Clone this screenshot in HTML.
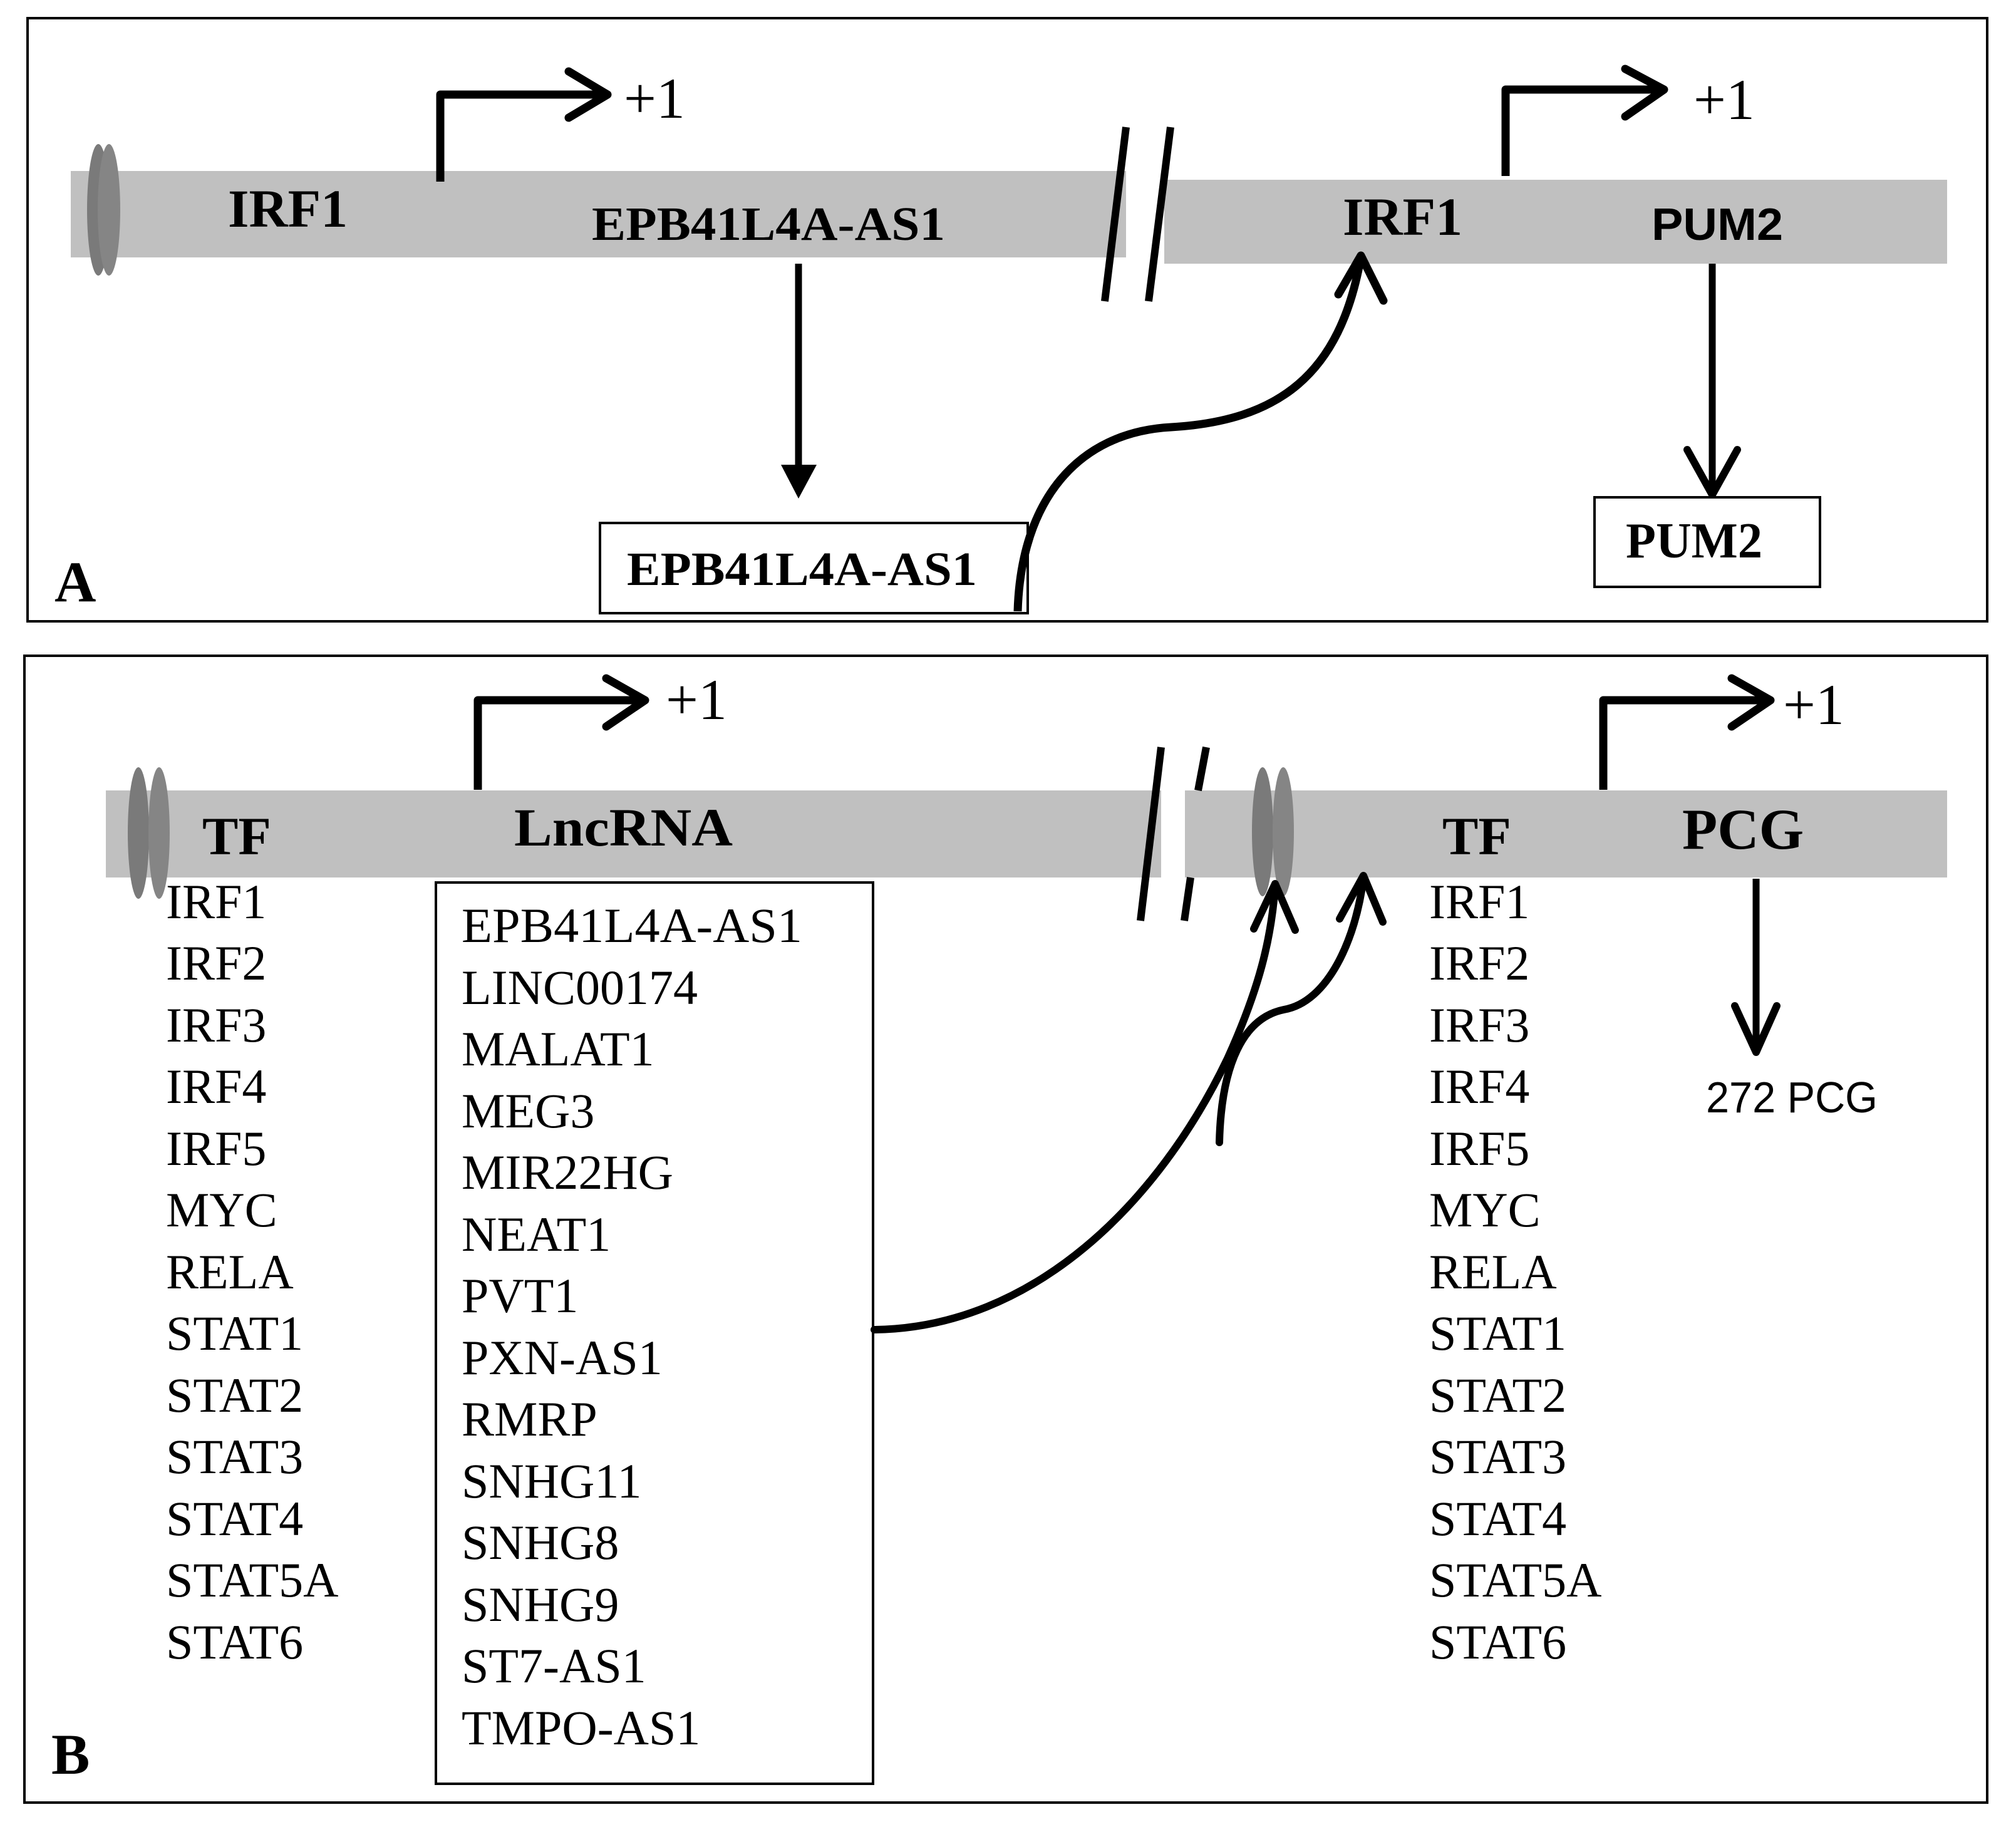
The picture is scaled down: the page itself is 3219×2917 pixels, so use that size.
<!DOCTYPE html>
<html><head><meta charset="utf-8"><style>
html,body{margin:0;padding:0;background:#fff}
svg{display:block}
text{font-family:"Liberation Serif",serif;fill:#000}
.b{font-weight:bold}
.s{font-family:"Liberation Sans",sans-serif}
</style></head><body>
<svg width="3219" height="2917" viewBox="0 0 3219 2917" xmlns="http://www.w3.org/2000/svg">
<rect width="3219" height="2917" fill="#fff"/>
<!-- Panel A -->
<rect x="44" y="29" width="3129" height="963" fill="none" stroke="#000" stroke-width="4"/>
<rect x="113" y="273" width="1685" height="138" fill="#c0c0c0"/>
<rect x="1859" y="287" width="1250" height="134" fill="#c0c0c0"/>
<ellipse cx="157" cy="335" rx="18" ry="105" fill="#7a7a7a"/>
<ellipse cx="174" cy="335" rx="18" ry="105" fill="#858585"/>
<text x="364" y="362" font-size="86" class="b">IRF1</text>
<text x="945" y="383" font-size="76" class="b" textLength="564" lengthAdjust="spacingAndGlyphs">EPB41L4A-AS1</text>
<g fill="none" stroke="#000" stroke-width="13" stroke-linecap="round" stroke-linejoin="round">
<path d="M703 290 V151 H970" stroke-linecap="butt"/>
<path d="M908 114 L970 151 L908 188"/>
<path d="M2404 281 V143 H2655" stroke-linecap="butt"/>
<path d="M2595 110 L2657 143 L2595 186"/>
</g>
<text x="996" y="188" font-size="92">+1</text>
<text x="2704" y="190" font-size="92">+1</text>
<line x1="1275" y1="421" x2="1275" y2="750" stroke="#000" stroke-width="11"/>
<polygon points="1247,742 1304,742 1275,796" fill="#000"/>
<rect x="958" y="835" width="683" height="144" fill="#fff" stroke="#000" stroke-width="4"/>
<text x="1001" y="934" font-size="76" class="b" textLength="559" lengthAdjust="spacingAndGlyphs">EPB41L4A-AS1</text>
<text x="87" y="960" font-size="92" class="b">A</text>
<g stroke="#000" stroke-width="12">
<line x1="1798" y1="203" x2="1764" y2="481"/>
<line x1="1869" y1="203" x2="1834" y2="481"/>
</g>
<path d="M1625 976 C1630 800 1720 690 1870 682 C2040 672 2140 600 2173 410" fill="none" stroke="#000" stroke-width="13"/>
<path d="M2137 470 L2173 408 L2209 480" fill="none" stroke="#000" stroke-width="13" stroke-linecap="round" stroke-linejoin="round"/>
<text x="2144" y="375" font-size="86" class="b">IRF1</text>
<text x="2637" y="383" font-size="72" class="s b" textLength="210" lengthAdjust="spacingAndGlyphs">PUM2</text>
<line x1="2734" y1="421" x2="2734" y2="785" stroke="#000" stroke-width="11"/>
<path d="M2694 718 L2734 790 L2774 718" fill="none" stroke="#000" stroke-width="12" stroke-linecap="round" stroke-linejoin="round"/>
<rect x="2546" y="794" width="360" height="143" fill="#fff" stroke="#000" stroke-width="4"/>
<text x="2596" y="890" font-size="80" class="b" textLength="218" lengthAdjust="spacingAndGlyphs">PUM2</text>

<!-- Panel B -->
<rect x="39" y="1047" width="3134" height="1831" fill="none" stroke="#000" stroke-width="4"/>
<rect x="169" y="1262" width="1685" height="139" fill="#c0c0c0"/>
<rect x="1892" y="1262" width="1217" height="139" fill="#c0c0c0"/>
<ellipse cx="221" cy="1330" rx="17" ry="105" fill="#7a7a7a"/>
<ellipse cx="254" cy="1330" rx="17" ry="105" fill="#858585"/>
<ellipse cx="2016" cy="1328" rx="17" ry="103" fill="#7a7a7a"/>
<ellipse cx="2049" cy="1328" rx="17" ry="103" fill="#858585"/>
<text x="323" y="1364" font-size="86" class="b">TF</text>
<text x="821" y="1350" font-size="86" class="b" textLength="349" lengthAdjust="spacingAndGlyphs">LncRNA</text>
<text x="2303" y="1364" font-size="86" class="b">TF</text>
<text x="2686" y="1355" font-size="92" class="b">PCG</text>
<g fill="none" stroke="#000" stroke-width="13" stroke-linecap="round" stroke-linejoin="round">
<path d="M763 1261 V1118 H1030" stroke-linecap="butt"/>
<path d="M968 1083 L1030 1118 L968 1160"/>
<path d="M2560 1261 V1118 H2825" stroke-linecap="butt"/>
<path d="M2765 1083 L2827 1118 L2765 1160"/>
</g>
<text x="1063" y="1148" font-size="92">+1</text>
<text x="2847" y="1156" font-size="92">+1</text>
<g stroke="#000" stroke-width="12">
<line x1="1854" y1="1193" x2="1821" y2="1470"/>
<line x1="1926" y1="1193" x2="1913" y2="1262"/>
<line x1="1901" y1="1401" x2="1891" y2="1470"/>
</g>
<g fill="none" stroke="#000" stroke-width="12" stroke-linecap="round" stroke-linejoin="round">
<path d="M1396 2123 C1650 2120 1850 1920 1960 1690 C2010 1580 2030 1500 2036 1415"/>
<path d="M2002 1483 L2036 1411 L2068 1485"/>
<path d="M1947 1824 C1950 1700 1985 1625 2050 1612 C2120 1600 2165 1500 2177 1402"/>
<path d="M2139 1467 L2177 1398 L2208 1472"/>
</g>
<g font-size="78">
<text x="265" y="1466">IRF1</text><text x="265" y="1564">IRF2</text><text x="265" y="1663">IRF3</text><text x="265" y="1761">IRF4</text><text x="265" y="1860">IRF5</text><text x="265" y="1958">MYC</text><text x="265" y="2057">RELA</text><text x="265" y="2155">STAT1</text><text x="265" y="2254">STAT2</text><text x="265" y="2352">STAT3</text><text x="265" y="2451">STAT4</text><text x="265" y="2549">STAT5A</text><text x="265" y="2648">STAT6</text>
<text x="2282" y="1466">IRF1</text><text x="2282" y="1564">IRF2</text><text x="2282" y="1663">IRF3</text><text x="2282" y="1761">IRF4</text><text x="2282" y="1860">IRF5</text><text x="2282" y="1958">MYC</text><text x="2282" y="2057">RELA</text><text x="2282" y="2155">STAT1</text><text x="2282" y="2254">STAT2</text><text x="2282" y="2352">STAT3</text><text x="2282" y="2451">STAT4</text><text x="2282" y="2549">STAT5A</text><text x="2282" y="2648">STAT6</text>
</g>
<rect x="696" y="1409" width="698" height="1439" fill="none" stroke="#000" stroke-width="4"/>
<g font-size="78">
<text x="737" y="1504" textLength="544" lengthAdjust="spacingAndGlyphs">EPB41L4A-AS1</text><text x="737" y="1603">LINC00174</text><text x="737" y="1701">MALAT1</text><text x="737" y="1800">MEG3</text><text x="737" y="1898">MIR22HG</text><text x="737" y="1997">NEAT1</text><text x="737" y="2095">PVT1</text><text x="737" y="2194">PXN-AS1</text><text x="737" y="2292">RMRP</text><text x="737" y="2391">SNHG11</text><text x="737" y="2489">SNHG8</text><text x="737" y="2588">SNHG9</text><text x="737" y="2686">ST7-AS1</text><text x="737" y="2785">TMPO-AS1</text>
</g>
<line x1="2804" y1="1403" x2="2804" y2="1672" stroke="#000" stroke-width="11"/>
<path d="M2770 1606 L2804 1680 L2837 1606" fill="none" stroke="#000" stroke-width="12" stroke-linecap="round" stroke-linejoin="round"/>
<text x="2724" y="1776" font-size="70" class="s" textLength="274" lengthAdjust="spacingAndGlyphs">272 PCG</text>
<text x="82" y="2832" font-size="92" class="b">B</text>
</svg>
</body></html>
